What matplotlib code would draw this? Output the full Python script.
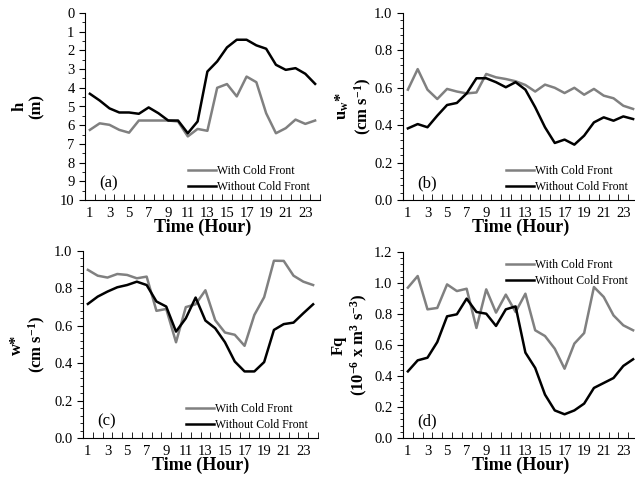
import numpy as np
import matplotlib
matplotlib.use('Agg')
import matplotlib.pyplot as plt
from matplotlib.ticker import MultipleLocator

plt.rcParams['font.family'] = ['Liberation Serif', 'DejaVu Serif']
plt.rcParams['mathtext.fontset'] = 'custom'
plt.rcParams['mathtext.rm'] = 'Liberation Serif'
plt.rcParams['mathtext.bf'] = 'Liberation Serif:bold'
plt.rcParams['mathtext.default'] = 'bf'

hours = np.arange(1, 25)

# (a) h (m)
h_with = [6.25, 5.9, 5.98, 6.25, 6.4, 5.75, 5.75, 5.75, 5.75, 5.8, 6.6, 6.2,
          6.3, 4.0, 3.8, 4.46, 3.4, 3.7, 5.36, 6.43, 6.16, 5.7, 5.93, 5.75]
h_without = [4.32, 4.68, 5.1, 5.32, 5.32, 5.39, 5.05, 5.36, 5.75, 5.75, 6.43, 5.8,
             3.13, 2.59, 1.84, 1.43, 1.43, 1.73, 1.91, 2.77, 3.04, 2.95, 3.25, 3.79]

# (b) u_w*
uw_with = [0.59, 0.70, 0.59, 0.54, 0.594, 0.58, 0.57, 0.575, 0.674, 0.656, 0.647, 0.635,
           0.615, 0.58, 0.617, 0.60, 0.572, 0.60, 0.563, 0.594, 0.558, 0.544, 0.504, 0.487]
uw_without = [0.383, 0.406, 0.389, 0.451, 0.508, 0.519, 0.57, 0.651, 0.651, 0.63, 0.603, 0.63,
              0.59, 0.496, 0.389, 0.305, 0.323, 0.296, 0.344, 0.415, 0.442, 0.424, 0.447, 0.433]

# (c) w*
w_with = [0.899, 0.868, 0.858, 0.877, 0.872, 0.854, 0.863, 0.68, 0.69, 0.512, 0.70, 0.715,
          0.79, 0.63, 0.564, 0.552, 0.493, 0.658, 0.753, 0.948, 0.947, 0.868, 0.836, 0.818]
w_without = [0.717, 0.756, 0.783, 0.806, 0.818, 0.836, 0.818, 0.73, 0.703, 0.569, 0.64, 0.751,
             0.628, 0.587, 0.512, 0.409, 0.356, 0.356, 0.406, 0.578, 0.609, 0.617, 0.667, 0.715]

# (d) Fq
fq_with = [0.97, 1.045, 0.83, 0.839, 0.991, 0.948, 0.963, 0.71, 0.959, 0.809, 0.925, 0.813,
           0.931, 0.695, 0.658, 0.576, 0.447, 0.609, 0.677, 0.974, 0.91, 0.791, 0.727, 0.695]
fq_without = [0.43, 0.501, 0.518, 0.619, 0.785, 0.798, 0.899, 0.813, 0.802, 0.723, 0.83, 0.849,
              0.551, 0.452, 0.28, 0.178, 0.153, 0.178, 0.222, 0.323, 0.355, 0.387, 0.465, 0.508]

xtick_labels = [str(i) for i in range(1, 25, 2)]

fig = plt.figure(figsize=(6.35, 4.78), dpi=100)
W, H = 635, 478


def make_axes(left, top, right, bottom):
    return fig.add_axes([left / W, 1 - bottom / H, (right - left) / W, (bottom - top) / H])


panels = [
    dict(box=(85, 13, 320, 200), y=(h_with, h_without), ylim=(10, 0), major=1, minor=0.5,
         fmt='{:.0f}', label='h\n(m)', lab_x=-40, letter='(a)', loc='lower right'),
    dict(box=(403, 13, 638, 200), y=(uw_with, uw_without), ylim=(0, 1.0), major=0.2, minor=0.04,
         fmt='{:.1f}', label='u$_{\\mathregular{w}}$*\n(cm s$^{\\mathregular{-1}}$)', lab_x=-29,
         letter='(b)', loc='lower right'),
    dict(box=(83, 251, 318, 438), y=(w_with, w_without), ylim=(0, 1.0), major=0.2, minor=0.04,
         fmt='{:.1f}', label='w*\n(cm s$^{\\mathregular{-1}}$)', lab_x=-35, letter='(c)',
         loc='lower right'),
    dict(box=(403, 252, 638, 438), y=(fq_with, fq_without), ylim=(0, 1.2), major=0.2, minor=0.04,
         fmt='{:.1f}',
         label='Fq\n(10$^{\\mathregular{-6}}$ x m$^{\\mathregular{3}}$ s$^{\\mathregular{-3}}$)',
         lab_x=-33, letter='(d)', loc='upper right'),
]

for p in panels:
    ax = make_axes(*p['box'])
    with_cf, without_cf = p['y']
    ax.plot(hours, with_cf, color='#808080', lw=1.8, label='With Cold Front')
    ax.plot(hours, without_cf, color='black', lw=1.8, label='Without Cold Front')

    ax.set_xlim(0.5, 24.5)
    ax.set_ylim(*p['ylim'])
    ax.set_xticks(range(1, 25, 2))
    ax.set_xticklabels(xtick_labels)
    ax.set_xticks(np.arange(0.5, 25, 1), minor=True)
    ax.tick_params(axis='x', which='major', length=0, labelsize=10.5, pad=5)
    ax.tick_params(axis='x', which='minor', direction='in', length=4)

    lo, hi = sorted(p['ylim'])
    yt = np.arange(lo, hi + 1e-9, p['major'])
    ax.set_yticks(yt)
    ax.set_yticklabels([p['fmt'].format(v) for v in yt])
    ax.yaxis.set_minor_locator(MultipleLocator(p['minor']))
    ax.tick_params(axis='y', which='major', direction='out', length=4, labelsize=10.5)
    ax.tick_params(axis='y', which='minor', direction='out', length=2)

    ax.spines['top'].set_visible(False)
    ax.spines['right'].set_visible(False)

    ax.set_xlabel('Time (Hour)', fontsize=13, fontweight='bold', labelpad=-1)
    ax.set_ylabel(p['label'], fontsize=12, fontweight='bold', linespacing=1.15)
    ax.yaxis.set_label_coords(p['lab_x'] / (p['box'][2] - p['box'][0]), 0.5)

    ax.text(0.06, 0.07, p['letter'], transform=ax.transAxes, fontsize=12)
    if p['loc'] == 'upper right':
        ax.legend(loc='upper right', bbox_to_anchor=(0.985, 1.0), frameon=False, fontsize=8.5,
                  handlelength=2.4, handletextpad=0.05, labelspacing=0.35, borderaxespad=0.2)
    else:
        ax.legend(loc='lower right', bbox_to_anchor=(0.985, 0.0), frameon=False, fontsize=8.5,
                  handlelength=2.4, handletextpad=0.05, labelspacing=0.35, borderaxespad=0.2)

fig.savefig('out.png', dpi=100)
